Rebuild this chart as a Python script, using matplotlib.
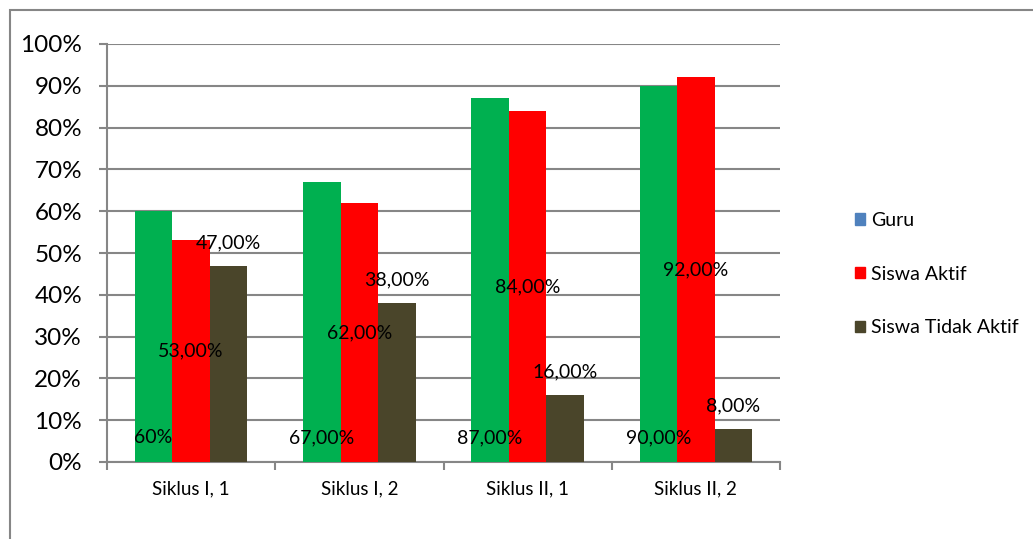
import numpy as np
import matplotlib.pyplot as plt
from matplotlib.patches import Rectangle

categories = ["Siklus I, 1", "Siklus I, 2", "Siklus II, 1", "Siklus II, 2"]
series = ["Guru", "Siswa Aktif", "Siswa Tidak Aktif"]
guru = [60, 67, 87, 90]
aktif = [53, 62, 84, 92]
tidak_aktif = [47, 38, 16, 8]
guru_labels = ["60%", "67,00%", "87,00%", "90,00%"]
aktif_labels = ["53,00%", "62,00%", "84,00%", "92,00%"]
tidak_labels = ["47,00%", "38,00%", "16,00%", "8,00%"]

bar_colors = ["#00B050", "#FF0000", "#4A452A"]
legend_colors = ["#4F81BD", "#FF0000", "#4A452A"]
grid_c = "#868686"

plt.rcParams['font.family'] = ['Lato', 'DejaVu Sans']

fig = plt.figure(figsize=(10.33, 5.39), dpi=100)
ax = fig.add_axes([107 / 1033, 1 - 462 / 539, (780 - 107) / 1033, (462 - 44) / 539])

# outer chart border
fig.patches.append(Rectangle((10 / 1033, -0.1), 1.2, 1 - 10 / 539 + 0.1,
                             transform=fig.transFigure, fill=False,
                             edgecolor=grid_c, linewidth=1.5))

x = np.arange(len(categories))
w = 0.223
b1 = ax.bar(x - w, guru, w, color=bar_colors[0], zorder=3)
b2 = ax.bar(x, aktif, w, color=bar_colors[1], zorder=3)
b3 = ax.bar(x + w, tidak_aktif, w, color=bar_colors[2], zorder=3)

for i in range(len(categories)):
    ax.annotate(guru_labels[i], (x[i] - w, 0), xytext=(0, 17.5), textcoords="offset points",
                ha="center", va="center", fontsize=14, zorder=5)
    ax.annotate(aktif_labels[i], (x[i], aktif[i] / 2), ha="center", va="center",
                fontsize=14, zorder=5)
    ax.annotate(tidak_labels[i], (x[i] + w, tidak_aktif[i]), xytext=(0, 16.5),
                textcoords="offset points", ha="center", va="center", fontsize=14, zorder=5)

ax.set_xlim(-0.5, len(categories) - 0.5)
ax.set_ylim(0, 100)
ax.set_yticks(range(0, 101, 10))
ax.set_yticklabels([f"{v}%" for v in range(0, 101, 10)], fontsize=17.5)
ax.set_xticks(x)
ax.set_xticklabels(categories, fontsize=13.5)
ax.set_xticks(np.arange(-0.5, len(categories), 1), minor=True)
ax.tick_params(axis="x", which="major", length=0, pad=13)
ax.tick_params(axis="x", which="minor", length=6, color=grid_c, width=1.5)
ax.tick_params(axis="y", length=6, color=grid_c, width=1.5, pad=12)

ax.yaxis.grid(True, color=grid_c, linewidth=1.5, zorder=0)
for s in ["top", "right"]:
    ax.spines[s].set_visible(False)
for s in ["left", "bottom"]:
    ax.spines[s].set_color(grid_c)
    ax.spines[s].set_linewidth(1.5)

handles = [Rectangle((0, 0), 1, 1, color=c) for c in legend_colors]
fig.legend(handles, series, loc="center left", bbox_to_anchor=(845 / 1033, 1 - 274 / 539),
           frameon=False, fontsize=14, handlelength=0.55, handleheight=0.55,
           handletextpad=0.3, labelspacing=1.9, borderpad=0)

fig.savefig("out.png", dpi=100)
